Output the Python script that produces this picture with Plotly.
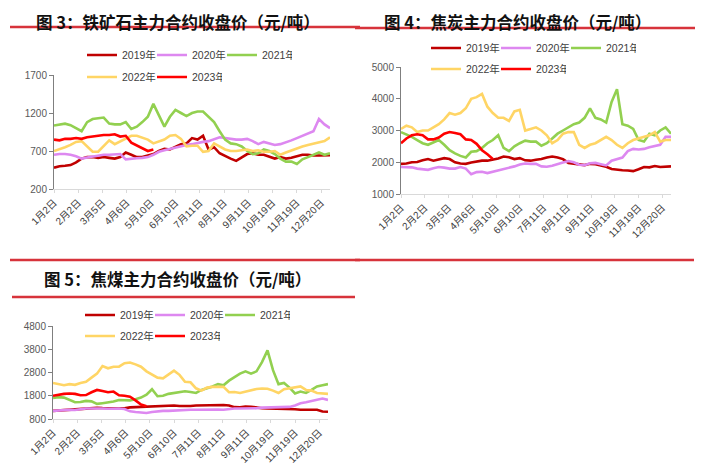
import plotly.graph_objects as go

# trading-day positions of sampled points (every 5 trading days)
SAMPLE_DAYS = list(range(0, 251, 5))
TICK_DAYS = [0, 22, 44, 66, 88, 110, 132, 154, 176, 198, 220, 242]
TICK_LABELS = ["1月2日", "2月2日", "3月5日", "4月6日", "5月10日", "6月10日",
               "7月11日", "8月11日", "9月11日", "10月19日", "11月19日", "12月20日"]
YEARS = ["2019年", "2020年", "2021年", "2022年", "2023年"]
YEAR_COLORS = ["#C00000", "#DD88F0", "#92D050", "#FFD565", "#FF0000"]

# 图3 铁矿石
ORE_2019 = [480, 500, 505, 515, 550, 600, 620, 620, 610, 620, 610, 600, 620, 680, 650, 620, 620, 640,
            660, 700, 730, 720, 750, 790, 800, 870, 850, 900, 720, 750, 670, 630, 600, 570, 620, 660,
            670, 650, 650, 620, 600, 620, 600, 610, 630, 650, 650, 640, 640, 640, 645]
ORE_2020 = [650, 660, 660, 650, 630, 600, 615, 625, 640, 650, 650, 655, 660, 590, 600, 605, 610, 620,
            650, 690, 710, 730, 750, 770, 780, 790, 810, 820, 830, 850, 880, 870, 855, 850, 850, 860,
            830, 790, 820, 800, 780, 790, 810, 840, 870, 900, 920, 960, 1120, 1050, 1000]
ORE_2021 = [1035, 1050, 1060, 1040, 1000, 960, 1080, 1120, 1130, 1140, 1060, 1050, 1050, 1080, 990,
            1020, 1080, 1150, 1320, 1180, 1020, 1150, 1240, 1200, 1160, 1200, 1220, 1220, 1150, 1080,
            960, 850, 800, 790, 760, 700, 660, 670, 720, 700, 660, 600, 560, 560, 530, 590, 620, 650,
            680, 650, 670]
ORE_2022 = [700, 720, 750, 780, 820, 830, 760, 690, 690, 760, 840, 790, 830, 860, 900, 900, 880, 850,
            800, 820, 850, 900, 910, 860, 760, 770, 770, 690, 700, 800, 760, 720, 700, 700, 710, 720,
            700, 710, 690, 690, 700, 650, 680, 710, 740, 760, 780, 800, 810, 830, 880]
ORE_2023 = [850, 840, 860, 860, 870, 860, 880, 890, 900, 910, 910, 920, 890, 900, 810, 770, 740, 700, 720]

# 图4 焦炭
COKE_2019 = [1950, 1960, 2000, 2010, 2060, 2100, 2050, 2080, 2130, 2100, 2000, 1960, 1950, 1990, 2030,
             2050, 2050, 2080, 2120, 2180, 2160, 2100, 2130, 2060, 2050, 2080, 2100, 2150, 2180, 2150,
             2100, 1980, 1960, 1920, 1910, 1950, 1940, 1900, 1860, 1790, 1760, 1750, 1740, 1720, 1780,
             1850, 1840, 1880, 1850, 1850, 1870]
COKE_2020 = [1850, 1850, 1840, 1800, 1770, 1760, 1810, 1850, 1830, 1800, 1800, 1850, 1800, 1620, 1690,
             1700, 1660, 1700, 1740, 1780, 1820, 1870, 1930, 1960, 1950, 1950, 1870, 1860, 1890, 1950,
             1990, 2040, 2000, 1920, 1910, 1970, 1980, 1940, 1900, 2050, 2100, 2150, 2350, 2420, 2400,
             2420, 2470, 2520, 2550, 2800, 2800]
COKE_2021 = [2950, 2880, 2800, 2700, 2600, 2550, 2620, 2700, 2550, 2380, 2280, 2200, 2150, 2330, 2350,
             2450, 2600, 2700, 2850, 2450, 2350, 2500, 2600, 2680, 2650, 2650, 2520, 2600, 2750, 2900,
             3000, 3100, 3200, 3250, 3400, 3700, 3400, 3350, 3250, 3900, 4300, 3200, 3150, 3050, 2700,
             2650, 2900, 2850, 3000, 3100, 2900]
COKE_2022 = [3050, 3150, 3100, 2950, 3000, 3000, 3100, 3200, 3350, 3550, 3500, 3550, 3700, 4000, 4050,
             4150, 3750, 3550, 3400, 3400, 3300, 3600, 3650, 3000, 3050, 3100, 3000, 2850, 2600, 2700,
             2900, 2950, 2950, 2550, 2450, 2550, 2600, 2700, 2800, 2700, 2550, 2450, 2600, 2700, 2750,
             2800, 2850, 2950, 2650, 2700, 2700]
COKE_2023 = [2600, 2750, 2850, 2880, 2850, 2720, 2720, 2780, 2900, 2950, 2920, 2880, 2720, 2700, 2580,
             2380, 2250, 2100]

# 图5 焦煤
COAL_2019 = [1150, 1170, 1190, 1200, 1220, 1250, 1260, 1270, 1280, 1270, 1260, 1250, 1250, 1260, 1300,
             1310, 1320, 1340, 1350, 1350, 1360, 1370, 1380, 1360, 1350, 1360, 1380, 1390, 1390, 1400,
             1400, 1400, 1380, 1310, 1300, 1340, 1330, 1280, 1260, 1250, 1250, 1250, 1250, 1240, 1220,
             1200, 1210, 1220, 1200, 1120, 1110]
COAL_2020 = [1150, 1170, 1190, 1200, 1190, 1230, 1250, 1250, 1260, 1250, 1240, 1250, 1250, 1230, 1130,
             1100, 1080, 1060, 1100, 1130, 1150, 1150, 1170, 1190, 1200, 1200, 1200, 1210, 1220, 1220,
             1210, 1200, 1230, 1250, 1250, 1250, 1250, 1260, 1290, 1300, 1300, 1290, 1300, 1320, 1380,
             1480, 1520, 1580, 1650, 1680, 1620]
COAL_2021 = [1700, 1740, 1720, 1620, 1520, 1530, 1580, 1560, 1450, 1480, 1500, 1550, 1620, 1600, 1600,
             1650, 1720, 1850, 2080, 1780, 1800, 1880, 1920, 1950, 1990, 1960, 1920, 2050, 2120, 2200,
             2300, 2250, 2450, 2620, 2750, 2850, 2750, 2850, 3250, 3750, 2900, 2300, 2350, 2150, 1900,
             1980, 1920, 2050, 2200, 2250, 2300]
COAL_2022 = [2350, 2300, 2250, 2300, 2270, 2350, 2400, 2580, 2750, 3080, 2980, 3050, 3050, 3200, 3230,
             3150, 3050, 2850, 2700, 2580, 2550, 2700, 2880, 2700, 2400, 2380, 2120, 2020, 2150, 2180,
             2180, 2180, 1950, 1960, 1920, 1980, 2040, 2090, 2110, 2100, 2020, 1920, 2080, 2120, 2150,
             2200, 2050, 2020, 1920, 1900, 1880]
COAL_2023 = [1800, 1850, 1880, 1900, 1880, 1820, 1830, 1950, 2050, 2000, 1950, 1980, 1820, 1800, 1760,
             1600, 1420, 1350]

RED = "#D7333B"
FONT = "Liberation Sans, Noto Sans CJK SC, sans-serif"
PAGE_PAD = 8          # default body margin of the html page
W, H = 712 - PAGE_PAD, 473 - PAGE_PAD


def px(x):
    return (x - PAGE_PAD) / W


def py(y):
    return 1 - (y - PAGE_PAD) / H


fig = go.Figure()

panels = [
    # (series, axis suffix, x domain px, y domain px, y range, y dtick, legend rows y, legend x)
    ([ORE_2019, ORE_2020, ORE_2021, ORE_2022, ORE_2023], "", (54, 330), (75, 189), (200, 1700), 500, (55, 77), 82),
    ([COKE_2019, COKE_2020, COKE_2021, COKE_2022, COKE_2023], "2", (401, 671), (67, 194), (1000, 5000), 1000, (48, 69), 426),
    ([COAL_2019, COAL_2020, COAL_2021, COAL_2022, COAL_2023], "3", (53, 328), (326, 419), (800, 4800), 1000, (315, 336), 80),
]

for p, (series, sfx, xd, yd, yr, dt, leg_y, leg_x) in enumerate(panels):
    leg1 = "legend" if p == 0 else f"legend{2 * p + 1}"
    leg2 = f"legend{2 * p + 2}"
    for i, (year, vals) in enumerate(zip(YEARS, series)):
        fig.add_trace(go.Scatter(
            x=SAMPLE_DAYS[:len(vals)], y=vals, name=year, mode="lines",
            line=dict(color=YEAR_COLORS[i], width=2.6),
            xaxis="x" + sfx, yaxis="y" + sfx,
            legend=leg1 if i < 3 else leg2,
        ))
    fig.layout["xaxis" + sfx] = dict(
        domain=[px(xd[0]), px(xd[1])], range=[0, 250], anchor="y" + sfx,
        tickmode="array", tickvals=TICK_DAYS, ticktext=TICK_LABELS, tickangle=-45,
        showline=True, linecolor="#D9D9D9", linewidth=1, ticks="outside", ticklen=3,
        tickcolor="#D9D9D9", showgrid=False, zeroline=False, automargin=False,
        tickfont=dict(family=FONT, size=10, color="#404040"),
    )
    fig.layout["yaxis" + sfx] = dict(
        domain=[py(yd[1]), py(yd[0])], range=list(yr), anchor="x" + sfx,
        tickmode="linear", tick0=yr[0], dtick=dt,
        showline=True, linecolor="#7F7F7F", linewidth=1, ticks="outside", ticklen=4,
        tickcolor="#7F7F7F", showgrid=False, zeroline=False, automargin=False,
        tickfont=dict(family=FONT, size=10, color="#595959"),
    )
    for name, ly in ((leg1, leg_y[0]), (leg2, leg_y[1])):
        fig.layout[name] = dict(
            orientation="h", x=px(leg_x), xanchor="left", y=py(ly), yanchor="middle",
            itemwidth=30, entrywidth=25, entrywidthmode="pixels",
            font=dict(family=FONT, size=10.5, color="#404040"),
            bgcolor="rgba(0,0,0,0)", tracegroupgap=0, itemclick=False,
        )

# titles: (text, left x, top y of the text box)
titles = [
    ("图 3：铁矿石主力合约收盘价（元/吨）", 35, 8.5),
    ("图 4：焦炭主力合约收盘价（元/吨）", 383, 8.5),
    ("图 5：焦煤主力合约收盘价（元/吨）", 43, 266),
]
for text, x, y in titles:
    fig.add_annotation(
        text=f"<b>{text}</b>", x=px(x), y=py(y), xref="paper", yref="paper",
        xanchor="left", yanchor="top", showarrow=False, borderpad=0,
        font=dict(family="Noto Sans CJK SC, sans-serif", size=16.5, color="#111111"),
    )

# red separator rules
for x0, x1, y in [(10, 360, 27), (355, 695, 28), (10, 360, 260), (355, 694, 260), (12, 355, 297)]:
    fig.add_shape(type="line", xref="paper", yref="paper",
                  x0=px(x0), x1=px(x1), y0=py(y), y1=py(y),
                  line=dict(color=RED, width=2.5))

fig.update_layout(
    width=W, height=H, margin=dict(l=0, r=0, t=0, b=0, autoexpand=False),
    paper_bgcolor="white", plot_bgcolor="white", showlegend=True,
)

fig.write_html("out.html")
